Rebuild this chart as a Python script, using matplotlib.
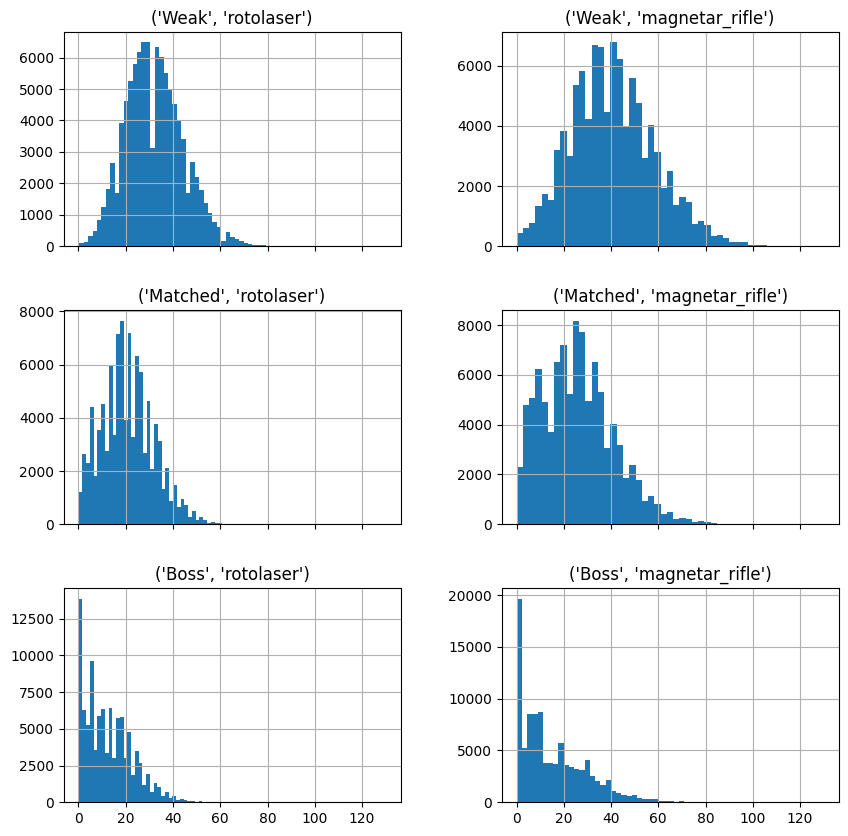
import matplotlib
matplotlib.use("Agg")
import matplotlib.pyplot as plt
import numpy as np

difficulties = ["Weak", "Matched", "Boss"]
weapons = ["rotolaser", "magnetar_rifle"]

# bin start and width per panel
weak_roto_start, weak_roto_width = 0.3, 1.88
weak_roto_counts = [100, 130, 320, 480, 830, 1245, 1820, 2650, 1690, 3925,
                    4630, 5265, 5780, 6190, 6480, 6480, 3130, 6350, 6030, 5520,
                    5000, 4530, 4020, 3415, 1690, 2680, 2200, 1790, 1370, 1050,
                    755, 605, 160, 450, 290, 225, 160, 100, 75, 35,
                    30, 25, 10, 6, 4, 2, 1, 1]

weak_mag_start, weak_mag_width = 0.0, 2.65
weak_mag_counts = [433, 600, 767, 1345, 1733, 1545, 3210, 3810, 3000, 5345,
                   5830, 4233, 6667, 6610, 4467, 6767, 6233, 3990, 5600, 4745,
                   2933, 4033, 3133, 1945, 2500, 1367, 1633, 1467, 745, 833,
                   711, 344, 378, 278, 144, 144, 144, 44, 44, 33,
                   10, 5, 3, 2, 1, 1, 0, 0, 0, 1]

matched_roto_start, matched_roto_width = 0.0, 1.6
matched_roto_counts = [1208, 2640, 2300, 4415, 1825, 3547, 4528, 2755, 5975, 3358,
                       7170, 7660, 3925, 7208, 3283, 6340, 5736, 2680, 4641, 2088,
                       3774, 3132, 1320, 2113, 868, 1472, 640, 943, 730, 264,
                       490, 150, 264, 150, 50, 75, 38, 38, 15, 10,
                       5, 3, 2, 1]

matched_mag_start, matched_mag_width = 0.0, 2.65
matched_mag_counts = [2298, 4798, 5081, 6250, 4919, 3710, 6532, 7218, 5242, 8185,
                      7742, 4960, 6532, 5323, 3065, 4032, 3185, 1855, 2379, 1774,
                      927, 1129, 806, 403, 484, 215, 245, 200, 100, 130,
                      100, 30, 20, 10, 5, 3, 2, 1]

boss_roto_start, boss_roto_width = 0.0, 1.59
boss_roto_counts = [13860, 6295, 5270, 9636, 3568, 5886, 6364, 3364, 6432, 3023,
                    5750, 5818, 3023, 4795, 1864, 3500, 2682, 1205, 1932, 705,
                    1318, 1045, 432, 705, 295, 432, 160, 227, 136, 90,
                    80, 15, 85, 10, 5, 2, 1]

boss_mag_start, boss_mag_width = 0.0, 2.22
boss_mag_counts = [19650, 5250, 8535, 8535, 8728, 3800, 3800, 3704, 5733, 3607,
                   3414, 3220, 3124, 4090, 2544, 2061, 1675, 2158, 1095, 902,
                   708, 612, 708, 418, 322, 322, 322, 129, 129, 129,
                   20, 129, 10, 5, 3, 2, 1]

panels = [
    [(weak_roto_start, weak_roto_width, weak_roto_counts),
     (weak_mag_start, weak_mag_width, weak_mag_counts)],
    [(matched_roto_start, matched_roto_width, matched_roto_counts),
     (matched_mag_start, matched_mag_width, matched_mag_counts)],
    [(boss_roto_start, boss_roto_width, boss_roto_counts),
     (boss_mag_start, boss_mag_width, boss_mag_counts)],
]

fig, axes = plt.subplots(3, 2, figsize=(10, 10), sharex=True)
fig.subplots_adjust(wspace=0.3, hspace=0.3)

for i, diff in enumerate(difficulties):
    for j, weap in enumerate(weapons):
        ax = axes[i, j]
        start, width, counts = panels[i][j]
        counts = np.asarray(counts, dtype=float)
        edges = start + width * np.arange(len(counts) + 1)
        centers = (edges[:-1] + edges[1:]) / 2
        ax.hist(centers, bins=edges, weights=counts, color="#1f77b4")
        ax.set_title(str((diff, weap)))
        ax.grid(True)

axes[0, 0].set_xlim(-6.3, 136.3)
axes[2, 0].set_xticks([0, 20, 40, 60, 80, 100, 120])

fig.savefig("out.png", dpi=100, bbox_inches="tight")
